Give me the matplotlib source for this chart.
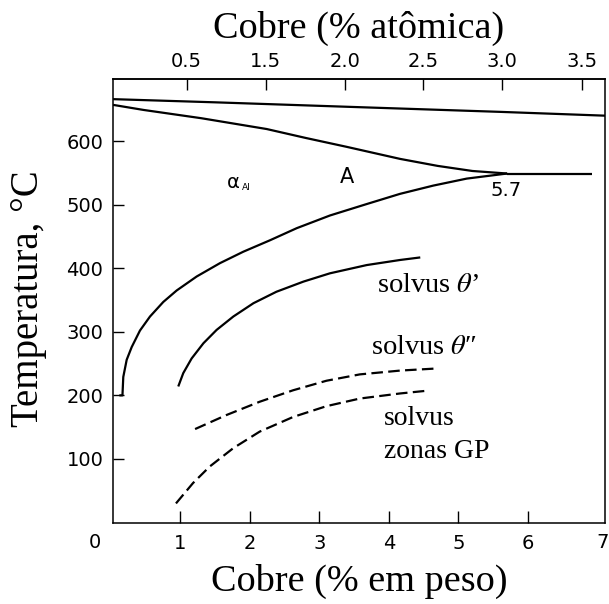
import matplotlib
matplotlib.use("Agg")
import matplotlib.pyplot as plt
from matplotlib.transforms import blended_transform_factory

plt.rcParams['mathtext.fontset'] = 'stix'

# --- data (composition in wt% Cu, temperature in degC) ---
liquidus_wt = [0.03, 1.5, 3.4, 5.6, 7.11]
liquidus_T = [666, 661, 654, 646, 640]

eutectic_wt = 5.7
eutectic_T = 549

solidus_wt = [0.03, 0.47, 1.3, 2.24, 2.8, 3.39, 4.16, 4.7, 5.2, eutectic_wt]
solidus_T = [657, 649, 636, 619, 605, 591, 572, 561, 553, eutectic_T]

eutectic_line_wt = [eutectic_wt, 6.92]
eutectic_line_T = [eutectic_T, eutectic_T]

alpha_solvus_wt = [0.12, 0.165, 0.17, 0.177, 0.226, 0.298, 0.417, 0.561, 0.753,
                   0.945, 1.233, 1.568, 1.904, 2.288, 2.672, 3.151, 3.68, 4.158,
                   4.637, 5.118, eutectic_wt]
alpha_solvus_T = [200, 200, 212, 229, 256, 276, 302, 324, 347,
                  365, 387, 408, 426, 444, 463, 483, 501, 517,
                  530, 541, eutectic_T]

theta_p_wt = [0.968, 1.04, 1.16, 1.33, 1.52, 1.76, 2.05, 2.38, 2.77, 3.15, 3.68, 4.16, 4.45]
theta_p_T = [214, 235, 258, 282, 303, 324, 345, 363, 379, 392, 405, 413, 417]

theta_pp_wt = [1.21, 1.66, 2.14, 2.62, 3.10, 3.58, 4.16, 4.64]
theta_pp_T = [147, 169, 190, 208, 223, 233, 239, 242]

gp_wt = [0.935, 1.18, 1.42, 1.76, 2.14, 2.62, 3.10, 3.58, 4.16, 4.52]
gp_T = [30, 62, 88, 117, 143, 166, 183, 195, 203, 207]

wt_ticks = [1, 2, 3, 4, 5, 6]
wt_ticklabels = ['1', '2', '3', '4', '5', '6']
T_ticks = [100, 200, 300, 400, 500, 600]
at_ticks_wt = [1.089, 2.226, 3.367, 4.489, 5.622, 6.773]
at_ticklabels = ['0.5', '1.5', '2.0', '2.5', '3.0', '3.5']

# --- figure ---
W, H = 609, 604
fig = plt.figure(figsize=(W / 100, H / 100), dpi=100)
left, right, top, bottom = 113, 605, 79, 522.5
ax = fig.add_axes([left / W, 1 - bottom / H, (right - left) / W, (bottom - top) / H])
ax.set_xlim(0.029, 7.108)
ax.set_ylim(0, 697.7)

sans = 'DejaVu Sans'
serif = ['Liberation Serif', 'DejaVu Serif']
tick_fs = 14

solid = dict(color='black', lw=1.6, solid_capstyle='butt', solid_joinstyle='round')
dashed = dict(color='black', lw=1.6, linestyle=(0, (5.2, 2.4)))

ax.plot(liquidus_wt, liquidus_T, **solid)
ax.plot(solidus_wt, solidus_T, **solid)
ax.plot(eutectic_line_wt, eutectic_line_T, **solid)
ax.plot(alpha_solvus_wt, alpha_solvus_T, **solid)
ax.plot(theta_p_wt, theta_p_T, **solid)
ax.plot(theta_pp_wt, theta_pp_T, **dashed)
ax.plot(gp_wt, gp_T, **dashed)

for s in ax.spines.values():
    s.set_linewidth(1.1)

ax.set_xticks(wt_ticks)
ax.set_xticklabels(wt_ticklabels)
ax.set_yticks(T_ticks)
ax.set_yticklabels([str(t) for t in T_ticks])
ax.tick_params(axis='x', direction='in', length=8.6, width=1.0, pad=8.5,
               labelsize=tick_fs)
ax.tick_params(axis='y', direction='in', length=8.2, width=1.0, pad=7.0,
               labelsize=tick_fs)
for lab in ax.get_xticklabels() + ax.get_yticklabels():
    lab.set_fontfamily(sans)

# extra corner labels along the bottom axis
bt = blended_transform_factory(ax.transData, fig.transFigure)
ax.text(-0.23, 1 - 543 / H, '0', transform=bt, ha='center', va='center',
        fontsize=tick_fs, family=sans, clip_on=False)
ax.text(7.08, 1 - 543 / H, '7', transform=bt, ha='center', va='center',
        fontsize=tick_fs, family=sans, clip_on=False)

# atomic-percent scale on top
top_ax = ax.secondary_xaxis('top')
top_ax.set_xticks(at_ticks_wt)
top_ax.set_xticklabels(at_ticklabels)
top_ax.tick_params(axis='x', direction='in', length=7.7, width=1.0, pad=6.0,
                   labelsize=tick_fs)
for lab in top_ax.get_xticklabels():
    lab.set_fontfamily(sans)
top_ax.spines['top'].set_linewidth(1.1)

# axis titles
cx = (left + right) / 2 / W
fig.text(cx, 1 - 28 / H, 'Cobre (% atômica)', ha='center', va='center',
         fontsize=27.5, family=serif)
fig.text(cx, 1 - 581 / H, 'Cobre (% em peso)', ha='center', va='center',
         fontsize=27.5, family=serif)
fig.text(29 / W, 1 - 299 / H, 'Temperatura, °C', ha='center', va='center',
         rotation=90, fontsize=28, family=serif)

# region and curve labels
ax.text(1.755, 535, 'α', ha='center', va='center', fontsize=14, family=sans)
ax.text(1.94, 527, 'Al', ha='center', va='center', fontsize=6.5, family=sans)
ax.text(3.39, 544, 'A', ha='center', va='center', fontsize=15, family=sans)
ax.text(5.69, 523, '5.7', ha='center', va='center', fontsize=14, family=sans)

ax.text(3.83, 363, r'solvus $\theta$’', ha='left', va='baseline',
        fontsize=20.5, family=serif)
ax.text(3.74, 265, 'solvus $\\theta$\u2033', ha='left', va='baseline',
        fontsize=20.5, family=serif)
ax.text(3.93, 153, 'solvus', ha='left', va='baseline',
        fontsize=20, family=serif)
ax.text(3.93, 101.5, 'zonas GP', ha='left', va='baseline',
        fontsize=20, family=serif)

fig.savefig('out.png', dpi=100)
